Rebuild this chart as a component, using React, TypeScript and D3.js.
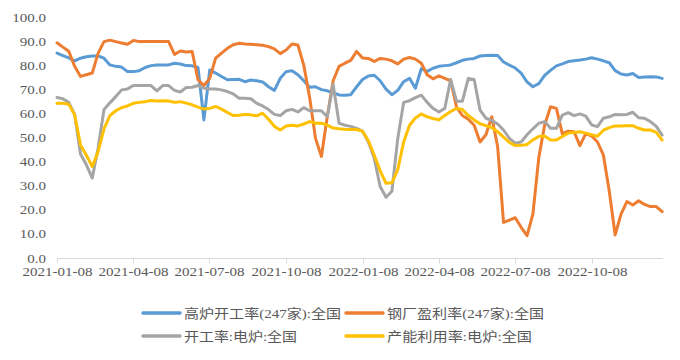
import * as d3 from 'd3';

const W = 680;
const H = 360;

// weekly observations, first week 2021-01-08
const START = new Date(2021, 0, 8);
const END = new Date(2022, 11, 31);

const SERIES_NAMES = ['高炉开工率(247家):全国', '钢厂盈利率(247家):全国', '开工率:电炉:全国', '产能利用率:电炉:全国'];
const SERIES_COLORS = ['#5b9bd5', '#ed7d31', '#a5a5a5', '#ffc000'];

const blastFurnace = [
  85.5, 84.5, 83.5, 82.3, 83.4, 84.0, 84.3, 84.3, 83.4, 80.6, 80.0, 79.7, 77.8, 77.8, 78.2, 79.5, 80.3, 80.6, 80.6, 80.6,
  81.3, 81.0, 80.3, 80.2, 79.5, 57.7, 78.5, 77.2, 75.8, 74.4, 74.5, 74.6, 73.6, 74.3, 74.0, 73.5, 71.5, 70.0, 75.0, 77.8,
  78.2, 76.5, 74.0, 71.3, 71.5, 70.3, 69.8, 69.0, 68.1, 68.0, 68.2, 71.5, 74.5, 76.0, 76.3, 74.0, 70.5, 68.2, 70.0, 73.6,
  75.0, 70.9, 79.0, 77.9, 79.2, 80.0, 80.3, 80.6, 81.5, 82.5, 83.0, 83.3, 84.3, 84.5, 84.6, 84.5, 81.8, 80.5, 79.3, 77.2,
  73.5, 71.5, 72.8, 76.2, 78.3, 80.2, 81.0, 82.0, 82.3, 82.6, 83.0, 83.6, 83.0, 82.3, 81.5, 78.2, 76.8, 76.4, 77.0, 75.4,
  75.6, 75.7, 75.6, 75.0,
];

const steelProfit = [
  89.8, 88.0, 86.3, 80.0, 75.8, 76.5, 77.2, 85.5, 90.3, 90.9, 90.3, 89.7, 89.2, 90.8, 90.3, 90.3, 90.3, 90.3, 90.3, 90.3,
  85.0, 86.4, 86.0, 86.2, 74.4, 72.0, 75.0, 83.4, 85.5, 87.5, 89.0, 89.6, 89.3, 89.2, 89.0, 88.8, 88.2, 87.3, 85.3, 86.8,
  89.3, 88.9, 80.5, 67.0, 50.0, 42.5, 59.0, 74.0, 80.0, 81.3, 82.5, 86.2, 83.5, 83.3, 82.0, 83.3, 83.0, 82.3, 81.0, 83.0,
  83.7, 83.0, 81.3, 76.5, 74.8, 76.0, 75.0, 74.0, 63.0, 59.5, 58.0, 55.5, 48.5, 51.5, 59.0, 46.5, 15.0, 16.0, 17.0, 13.0,
  9.5, 18.5, 42.0, 55.6, 63.2, 62.5, 52.0, 53.0, 52.8, 47.0, 52.0, 51.0, 48.5, 43.0, 28.0, 9.8, 18.5, 23.7, 22.3, 24.0,
  22.5, 21.6, 21.6, 19.5,
];

const eafOperating = [
  67.0, 66.5, 65.0, 60.0, 43.5, 39.0, 33.5, 46.0, 62.0, 64.8, 67.4, 70.2, 70.6, 72.0, 72.0, 72.0, 72.0, 69.8, 72.0, 72.0,
  70.0, 69.3, 71.2, 71.3, 72.0, 70.9, 70.6, 70.6, 70.2, 69.5, 68.5, 66.7, 66.7, 66.5, 64.6, 63.5, 62.0, 60.0, 59.5, 61.5,
  62.1, 61.0, 62.8, 61.5, 61.5, 61.5, 59.0, 72.5, 56.3, 55.5, 55.0, 54.2, 53.0, 48.5, 41.7, 30.0, 25.5, 28.0, 50.0, 65.0,
  65.7, 67.0, 68.0, 65.0, 62.5, 61.0, 62.5, 74.5, 65.5, 65.5, 75.0, 74.5, 61.8, 58.4, 57.5, 56.0, 53.5, 50.0, 48.0, 48.5,
  51.5, 54.0, 56.3, 57.0, 54.2, 54.2, 59.7, 60.7, 59.5, 60.2, 59.3, 55.6, 54.9, 58.4, 59.0, 60.0, 59.8, 60.0, 60.9, 58.6,
  58.4, 57.0, 55.0, 51.4,
];

const eafCapacity = [
  64.6, 64.6, 64.2, 59.8, 47.3, 43.0, 38.3, 44.5, 54.0, 59.5, 61.5, 62.8, 63.5, 64.6, 65.0, 65.3, 65.8, 65.6, 65.7, 65.6,
  65.0, 65.3, 64.7, 64.0, 63.0, 62.2, 62.5, 63.3, 62.2, 60.8, 59.5, 59.6, 60.0, 59.8, 59.4, 60.5, 58.0, 55.0, 53.5, 55.2,
  55.5, 55.2, 56.0, 57.0, 56.3, 56.3, 55.5, 54.3, 54.0, 53.8, 53.7, 53.7, 53.0, 49.0, 43.0, 36.5, 31.3, 31.5, 37.0, 48.5,
  55.5, 58.5, 60.2, 59.0, 58.3, 57.7, 59.5, 61.2, 62.5, 62.0, 59.5, 57.7, 56.1, 55.3, 54.5, 52.8, 50.5, 48.3, 47.0, 47.1,
  47.5, 49.4, 50.8, 51.0, 49.3, 49.3, 50.8, 52.2, 52.5, 52.8, 52.2, 51.5, 50.9, 53.4, 54.5, 55.2, 55.2, 55.3, 55.3, 54.2,
  53.5, 53.5, 52.5, 49.3,
];

const X_TICKS = ['2021-01-08', '2021-04-08', '2021-07-08', '2021-10-08', '2022-01-08', '2022-04-08', '2022-07-08', '2022-10-08'];
const Y_TICKS = [0, 10, 20, 30, 40, 50, 60, 70, 80, 90, 100];

const LEGEND_TEXT_W = [157, 157, 113, 145];

const FONT = '"Liberation Serif", "Times New Roman", "Noto Sans CJK SC", serif';
const LABEL = '#595959';

export default function App() {
  const dates = d3.timeDay.range(START, END, 7);
  const series = [blastFurnace, steelProfit, eafOperating, eafCapacity];

  const x = d3.scaleTime().domain([START, END]).range([57, 663]);
  const y = d3.scaleLinear().domain([0, 100]).range([258.5, 18.3]);
  const parse = d3.timeParse('%Y-%m-%d');
  const fmt = d3.format('.1f');

  const line = d3.line<number>()
    .x((_, i) => x(dates[i]))
    .y(d => y(d));

  const axisY = y(0);

  return (
    <svg width={W} height={H} style={{ position: 'absolute', left: 0, top: 0, background: '#fff' }} fontFamily={FONT}>
      {/* y labels */}
      {Y_TICKS.map(t => (
        <text key={t} transform={`translate(46,${y(t) + 4}) scale(1.25,1)`} textAnchor="end" fontSize={12} fill={LABEL}>
          {fmt(t)}
        </text>
      ))}

      {/* x axis */}
      <line x1={x.range()[0]} x2={x.range()[1]} y1={axisY} y2={axisY} stroke="#d9d9d9" strokeWidth={1} />
      {X_TICKS.map(s => {
        const tx = Math.round(x(parse(s)!)) + 0.5;
        return (
          <g key={s}>
            <line x1={tx} x2={tx} y1={axisY} y2={axisY + 5} stroke="#d9d9d9" />
            <text transform={`translate(${tx},${axisY + 17}) scale(1.25,1)`} textAnchor="middle" fontSize={12} fill={LABEL}>
              {s}
            </text>
          </g>
        );
      })}

      {/* series */}
      {series.map((vals, k) => (
        <path key={k} d={line(vals) ?? ''} fill="none" stroke={SERIES_COLORS[k]} strokeWidth={3}
          strokeLinejoin="round" strokeLinecap="round" />
      ))}

      {/* legend */}
      {SERIES_NAMES.map((name, k) => {
        const lx = k % 2 === 0 ? 143 : 346;
        const ly = k < 2 ? 313 : 336;
        return (
          <g key={name}>
            <line x1={lx} x2={lx + 37} y1={ly} y2={ly} stroke={SERIES_COLORS[k]} strokeWidth={3.5} strokeLinecap="round" />
            <text x={lx + 41} y={ly + 5} fontSize={13} fill={LABEL}
              textLength={LEGEND_TEXT_W[k]} lengthAdjust="spacingAndGlyphs">
              {name}
            </text>
          </g>
        );
      })}
    </svg>
  );
}
